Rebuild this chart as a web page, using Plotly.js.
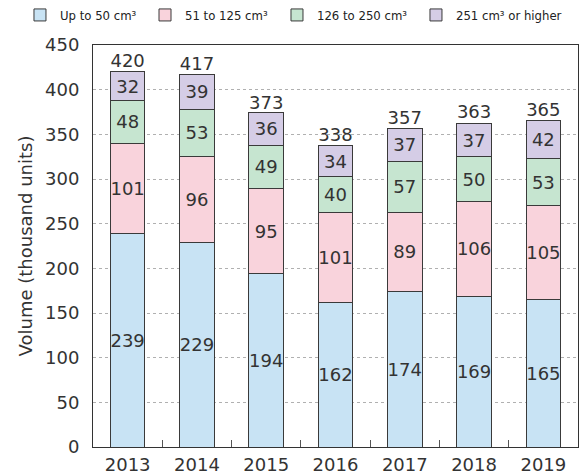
<!DOCTYPE html>
<html>
<head>
<meta charset="utf-8">
<script src="https://cdn.plot.ly/plotly-3.0.1.min.js"></script>
<style>html,body{margin:0;padding:0;background:#fff;}#chart{width:584px;height:476px;}</style>
</head>
<body>
<div id="chart"></div>
<script>
const years = ["2013", "2014", "2015", "2016", "2017", "2018", "2019"];
const upTo50 = [239, 229, 194, 162, 174, 169, 165];
const from51to125 = [101, 96, 95, 101, 89, 106, 105];
const from126to250 = [48, 53, 49, 40, 57, 50, 53];
const from251 = [32, 39, 36, 34, 37, 37, 42];
const totals = [420, 417, 373, 338, 357, 363, 365];
const seriesNames = ["Up to 50 cm³", "51 to 125 cm³", "126 to 250 cm³", "251 cm³ or higher"];
const yTicks = [0, 50, 100, 150, 200, 250, 300, 350, 400, 450];

const colors = ["#c8e3f4", "#f9d3dc", "#c6e5d0", "#d5cde6"];
const seriesValues = [upTo50, from51to125, from126to250, from251];
const legendIds = ["legend", "legend2", "legend3", "legend4"];
const legendX = [0.0342, 0.2483, 0.4743, 0.7123];
const textFont = {family: "DejaVu Sans, Verdana, sans-serif", size: 18, color: "#333"};

const traces = seriesValues.map((vals, i) => ({
  type: "bar",
  name: seriesNames[i],
  legend: legendIds[i],
  x: years,
  y: vals,
  text: vals.map(String),
  textposition: "inside",
  insidetextanchor: "middle",
  textangle: 0,
  textfont: textFont,
  constraintext: "none",
  marker: {color: colors[i], line: {color: "#3a3a3a", width: 1}},
  hoverinfo: "skip"
}));

traces.push({
  type: "scatter",
  mode: "text",
  x: years,
  y: totals,
  text: totals.map(String),
  textposition: "top center",
  textfont: textFont,
  showlegend: false,
  hoverinfo: "skip",
  cliponaxis: false
});

const layout = {
  width: 584,
  height: 476,
  margin: {l: 93, r: 6, t: 45, b: 29, autoexpand: false},
  barmode: "stack",
  bargap: 0.5,
  paper_bgcolor: "#fff",
  plot_bgcolor: "#fff",
  font: textFont,
  showlegend: true,
  xaxis: {
    type: "category",
    showline: true, linecolor: "#333", linewidth: 1, mirror: true,
    ticks: "inside", tickson: "boundaries", ticklen: 7, tickcolor: "#555",
    showgrid: false,
    tickfont: textFont,
    ticklabelstandoff: 1
  },
  yaxis: {
    range: [0, 450],
    tickvals: yTicks,
    ticktext: yTicks.map(String),
    showline: true, linecolor: "#333", linewidth: 1, mirror: true,
    ticks: "",
    showgrid: true, gridcolor: "#b0b0b0", griddash: "dot", gridwidth: 1,
    zeroline: false,
    tickfont: textFont,
    ticklabelstandoff: 9,
    title: {text: "Volume (thousand units)", font: {family: "DejaVu Sans, Verdana, sans-serif", size: 18, color: "#333"}, standoff: 7}
  }
};

legendIds.forEach((id, i) => {
  layout[id] = {
    orientation: "h",
    x: legendX[i], xanchor: "left",
    y: 1.0, yanchor: "top",
    yref: "container", xref: "container",
    font: {family: "DejaVu Sans Condensed, Tahoma, sans-serif", size: 13, color: "#222"},
    itemwidth: 30,
    bgcolor: "rgba(0,0,0,0)"
  };
});

Plotly.newPlot("chart", traces, layout, {displayModeBar: false, staticPlot: true});
</script>
</body>
</html>
